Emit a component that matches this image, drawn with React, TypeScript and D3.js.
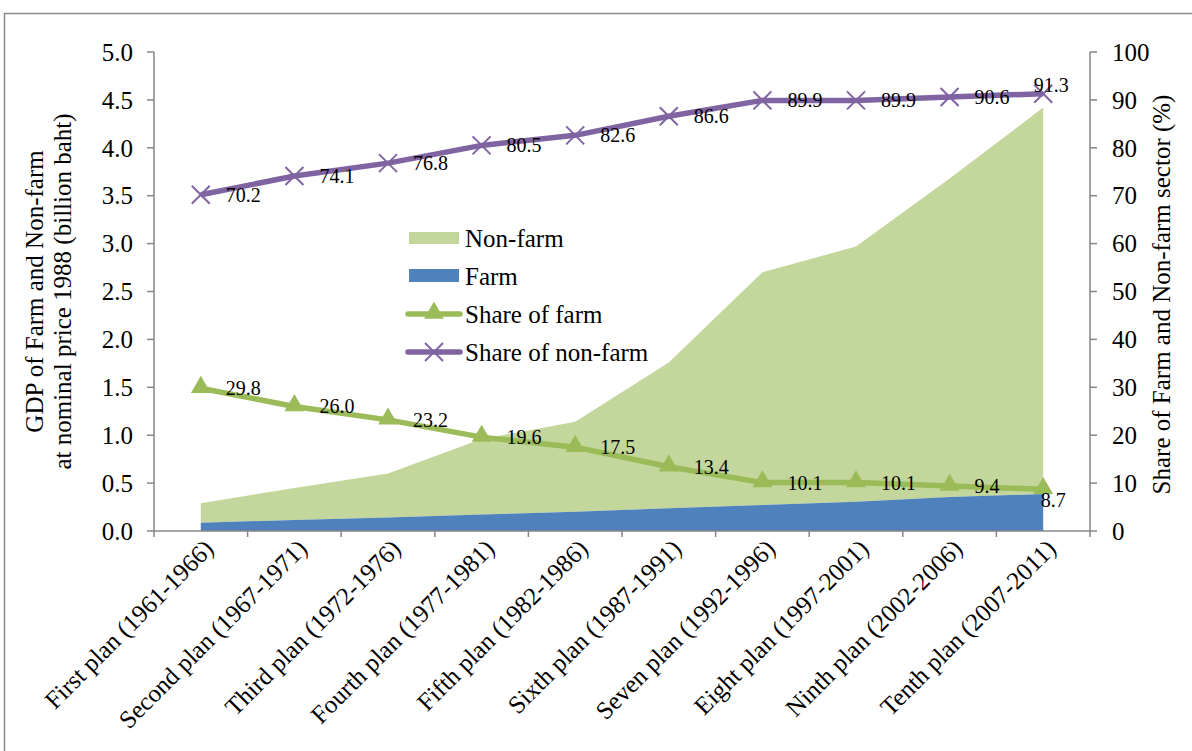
import React from "react";
import * as d3 from "d3";

const categories = [
  "First plan (1961-1966)",
  "Second plan (1967-1971)",
  "Third plan (1972-1976)",
  "Fourth plan (1977-1981)",
  "Fifth plan (1982-1986)",
  "Sixth plan (1987-1991)",
  "Seven plan (1992-1996)",
  "Eight plan (1997-2001)",
  "Ninth plan (2002-2006)",
  "Tenth plan (2007-2011)",
];
const farmGDP = [0.087, 0.115, 0.142, 0.172, 0.2, 0.238, 0.272, 0.305, 0.355, 0.386];
const nonFarmGDP = [0.203, 0.335, 0.458, 0.788, 0.94, 1.522, 2.428, 2.665, 3.325, 4.034];
const shareFarm = [29.8, 26.0, 23.2, 19.6, 17.5, 13.4, 10.1, 10.1, 9.4, 8.7];
const shareNonFarm = [70.2, 74.1, 76.8, 80.5, 82.6, 86.6, 89.9, 89.9, 90.6, 91.3];
const leftTicks = [0, 0.5, 1, 1.5, 2, 2.5, 3, 3.5, 4, 4.5, 5];
const rightTicks = [0, 10, 20, 30, 40, 50, 60, 70, 80, 90, 100];

const FONT = "'Liberation Serif', 'Times New Roman', serif";
const C_NONFARM = "#C3D69B";
const C_FARM = "#4F81BD";
const C_SFARM = "#9BBB59";
const C_SNONFARM = "#8064A2";
const AXIS = "#868686";

export default function App() {
  const left = 154, right = 1090, top = 52, bottom = 531;
  const x = d3.scaleBand<string>().domain(categories).range([left, right]).padding(0);
  const cx = (i: number) => (x(categories[i]) as number) + x.bandwidth() / 2;
  const yL = d3.scaleLinear().domain([0, 5]).range([bottom, top]);
  const yR = d3.scaleLinear().domain([0, 100]).range([bottom, top]);

  const rows = categories.map((c, i) => ({ i, farm: farmGDP[i], nonfarm: nonFarmGDP[i] }));
  const stacked = d3.stack<any>().keys(["farm", "nonfarm"])(rows);
  const area = d3
    .area<any>()
    .x((d) => cx(d.data.i))
    .y0((d) => yL(d[0]))
    .y1((d) => yL(d[1]));

  const lineR = d3
    .line<number>()
    .x((_, i) => cx(i))
    .y((d) => yR(d));

  const tri = d3.symbol().type(d3.symbolTriangle).size(170)() as string;
  const cross = (px: number, py: number, k: string | number) => (
    <g key={k} stroke={C_SNONFARM} strokeWidth={2}>
      <line x1={px - 9} y1={py - 9} x2={px + 9} y2={py + 9} />
      <line x1={px - 9} y1={py + 9} x2={px + 9} y2={py - 9} />
    </g>
  );

  const n = categories.length;
  const tickXs = d3.range(n + 1).map((i) => left + i * x.bandwidth());

  return (
    <svg
      width={1192}
      height={751}
      style={{ position: "absolute", left: 0, top: 0, background: "#fff" }}
      fontFamily={FONT}
    >
      <rect x={0} y={0} width={1192} height={751} fill="#fff" />
      <rect x={4.5} y={13.5} width={1300} height={900} fill="none" stroke="#8a8a8a" strokeWidth={1.5} />

      {/* areas */}
      <path d={area(stacked[1] as any) as string} fill={C_NONFARM} />
      <path d={area(stacked[0] as any) as string} fill={C_FARM} />

      {/* axes */}
      <g stroke={AXIS} strokeWidth={1.5} fill="none">
        <line x1={left} y1={top} x2={left} y2={bottom} />
        <line x1={right} y1={top} x2={right} y2={bottom} />
        <line x1={left} y1={bottom} x2={right} y2={bottom} />
        {leftTicks.map((t) => (
          <line key={"lt" + t} x1={left - 7} x2={left} y1={yL(t)} y2={yL(t)} />
        ))}
        {rightTicks.map((t) => (
          <line key={"rt" + t} x1={right} x2={right + 7} y1={yR(t)} y2={yR(t)} />
        ))}
        {tickXs.map((tx, i) => (
          <line key={"xt" + i} x1={tx} x2={tx} y1={bottom} y2={bottom + 6} />
        ))}
      </g>

      {/* tick labels */}
      <g fontSize={25} fill="#000">
        {leftTicks.map((t) => (
          <text key={"ll" + t} x={133} y={yL(t)} dy="0.35em" textAnchor="end">
            {t.toFixed(1)}
          </text>
        ))}
        {rightTicks.map((t) => (
          <text key={"rl" + t} x={1112} y={yR(t)} dy="0.35em" textAnchor="start">
            {t}
          </text>
        ))}
        {categories.map((c, i) => (
          <text
            key={"cl" + i}
            transform={`translate(${cx(i) + 8},${bottom + 13}) rotate(-45)`}
            textAnchor="end"
            dy="0.35em"
          >
            {c}
          </text>
        ))}
      </g>

      {/* axis titles */}
      <g fontSize={25} fill="#000" textAnchor="middle">
        <text transform={`translate(43,${(top + bottom) / 2}) rotate(-90)`}>GDP of Farm and Non-farm</text>
        <text transform={`translate(71,${(top + bottom) / 2}) rotate(-90)`}>
          at nominal price 1988 (billion baht)
        </text>
        <text transform={`translate(1170,${(top + bottom) / 2 + 3}) rotate(-90)`}>
          Share of Farm and Non-farm sector (%)
        </text>
      </g>

      {/* lines */}
      <path d={lineR(shareNonFarm) as string} fill="none" stroke={C_SNONFARM} strokeWidth={5.5} strokeLinejoin="round" />
      <path d={lineR(shareFarm) as string} fill="none" stroke={C_SFARM} strokeWidth={5.5} strokeLinejoin="round" />
      {shareNonFarm.map((v, i) => cross(cx(i), yR(v), "c" + i))}
      {shareFarm.map((v, i) => (
        <path key={"t" + i} d={tri} transform={`translate(${cx(i)},${yR(v) - 1})`} fill={C_SFARM} />
      ))}

      {/* data labels */}
      <g fontSize={20} fill="#000">
        {shareNonFarm.map((v, i) =>
          i < n - 1 ? (
            <text key={"ln" + i} x={cx(i) + 25} y={yR(v)} dy="0.35em">
              {v.toFixed(1)}
            </text>
          ) : (
            <text key={"ln" + i} x={cx(i) + 8} y={yR(v) - 9} dy="0.35em" textAnchor="middle">
              {v.toFixed(1)}
            </text>
          )
        )}
        {shareFarm.map((v, i) =>
          i < n - 1 ? (
            <text key={"lf" + i} x={cx(i) + 25} y={yR(v)} dy="0.35em">
              {v.toFixed(1)}
            </text>
          ) : (
            <text key={"lf" + i} x={cx(i) + 10} y={yR(v) + 11} dy="0.35em" textAnchor="middle">
              {v.toFixed(1)}
            </text>
          )
        )}
      </g>

      {/* legend */}
      <g fontSize={25} fill="#000">
        <rect x={409} y={232} width={50} height={12} fill={C_NONFARM} />
        <text x={465} y={238} dy="0.35em">Non-farm</text>
        <rect x={409} y={269} width={50} height={13} fill={C_FARM} />
        <text x={465} y={276} dy="0.35em">Farm</text>
        <line x1={408} x2={460} y1={314} y2={314} stroke={C_SFARM} strokeWidth={5.5} strokeLinecap="round" />
        <path d={tri} transform={`translate(434,313)`} fill={C_SFARM} />
        <text x={465} y={314} dy="0.35em">Share of farm</text>
        <line x1={408} x2={460} y1={352} y2={352} stroke={C_SNONFARM} strokeWidth={5.5} strokeLinecap="round" />
        {cross(434, 352, "legc")}
        <text x={465} y={352} dy="0.35em">Share of non-farm</text>
      </g>
    </svg>
  );
}
